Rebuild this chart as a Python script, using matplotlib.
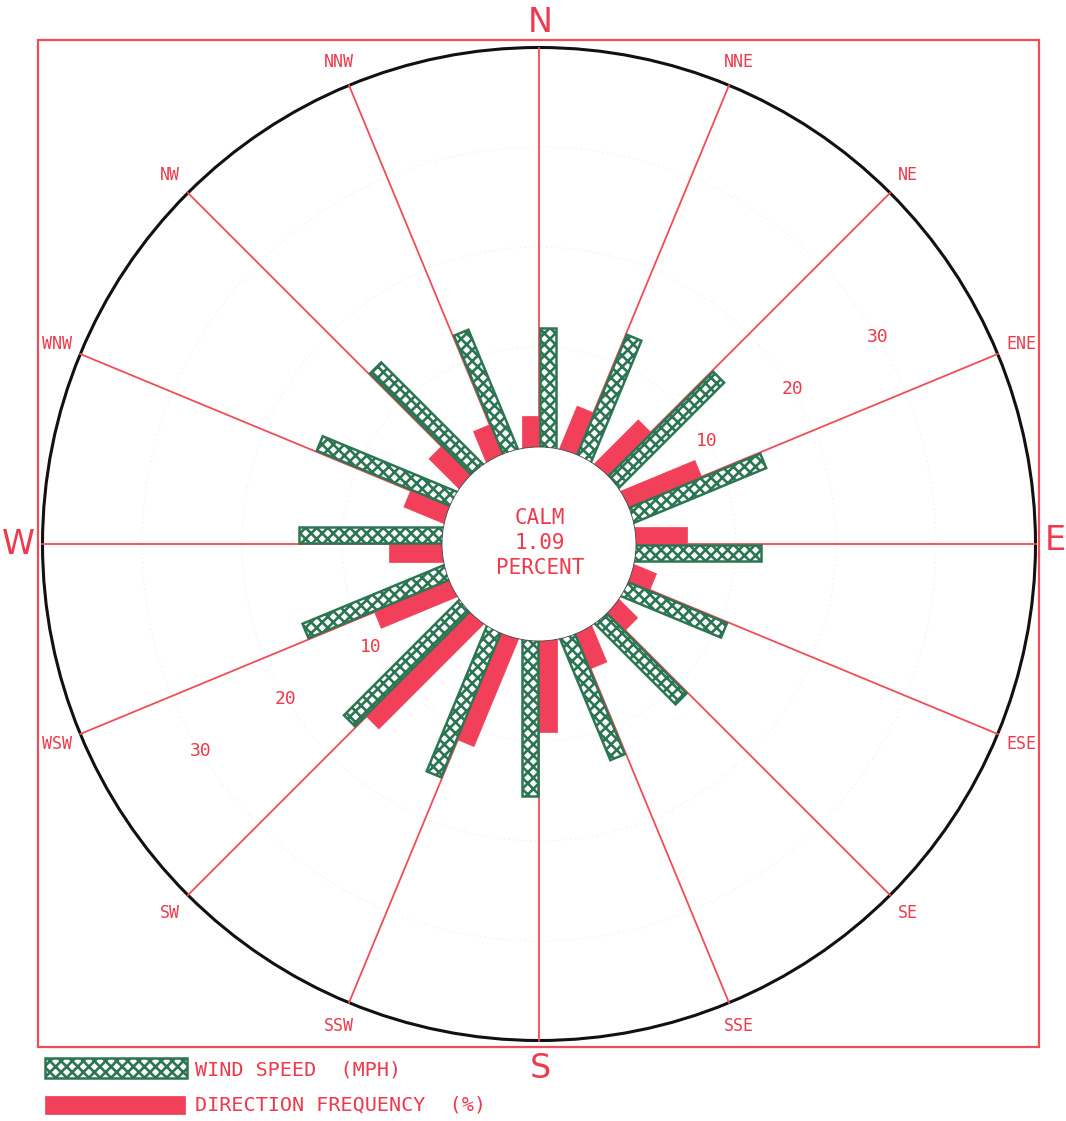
import numpy as np
import matplotlib
matplotlib.use("Agg")
import matplotlib.pyplot as plt
from matplotlib.patches import Polygon, Circle, Rectangle

# ---- data -------------------------------------------------------------
directions = ['N', 'NNE', 'NE', 'ENE', 'E', 'ESE', 'SE', 'SSE',
              'S', 'SSW', 'SW', 'WSW', 'W', 'WNW', 'NW', 'NNW']
wind_speed_mph = [11.9, 13.0, 14.8, 14.2, 12.5, 10.7, 11.3, 13.0,
                  15.5, 15.6, 16.2, 15.2, 14.3, 14.4, 14.3, 12.8]
direction_freq_pct = [3.1, 4.5, 6.1, 7.9, 5.1, 2.3, 2.5, 3.8,
                      9.1, 11.5, 14.7, 8.1, 5.3, 4.2, 4.1, 3.2]
calm_percent = 1.09
ring_values = [10, 20, 30]

# ---- styling ----------------------------------------------------------
RED = '#f23f5a'
LINE_RED = '#f24c58'
TEXT_RED = '#ee3a4c'
GREEN = '#2c7552'
MONO = 'DejaVu Sans Mono'
plt.rcParams['hatch.linewidth'] = 1.9

W_PX, H_PX = 1066, 1121
CX_PX, CY_PX = 539, 544          # rose centre in pixels
PX_PER_UNIT = 10.0
R_CALM = 9.7                      # radius of the calm circle (value units)
R_OUT = 49.65                     # outer compass circle

fig = plt.figure(figsize=(W_PX / 100, H_PX / 100), dpi=100)
ax = fig.add_axes([0, 0, 1, 1])
ax.set_xlim(-CX_PX / PX_PER_UNIT, (W_PX - CX_PX) / PX_PER_UNIT)
ax.set_ylim(-(H_PX - CY_PX) / PX_PER_UNIT, CY_PX / PX_PER_UNIT)
ax.axis('off')

bearings = np.arange(len(directions)) * 22.5


def unit(b):
    t = np.deg2rad(b)
    return np.array([np.sin(t), np.cos(t)]), np.array([np.cos(t), -np.sin(t)])


def bar(b, length, w0, w1):
    u, p = unit(b)
    r0, r1 = R_CALM - 1.0, R_CALM + length
    pts = [r0 * u + w0 * p, r1 * u + w0 * p, r1 * u + w1 * p, r0 * u + w1 * p]
    return np.array(pts)


# frame
ax.add_patch(Rectangle((-50.1, -50.3), 100.1, 100.7, fill=False,
                       edgecolor=LINE_RED, lw=1.6, zorder=1))

# outer circle
ax.add_patch(Circle((0, 0), R_OUT, fill=False, edgecolor='#111111', lw=2.2, zorder=2))

# faint dotted speed/frequency rings
for v in ring_values:
    ax.add_patch(Circle((0, 0), R_CALM + v, fill=False, edgecolor='#c4c8d6',
                        lw=0.8, ls=(0, (1, 3)), alpha=0.35, zorder=1))

# direction spokes
for b in bearings:
    u, _ = unit(b)
    ax.plot([R_CALM * u[0], R_OUT * u[0]], [R_CALM * u[1], R_OUT * u[1]],
            color=LINE_RED, lw=1.3, zorder=3)

# bars: frequency on the counter-clockwise side, speed on the clockwise side
for b, spd, frq in zip(bearings, wind_speed_mph, direction_freq_pct):
    ax.add_patch(Polygon(bar(b, frq, -1.75, 0.0), closed=True,
                         facecolor=RED, edgecolor=RED, lw=0.5, zorder=4))
    ax.add_patch(Polygon(bar(b, spd, 0.12, 1.68), closed=True,
                         facecolor='white', edgecolor=GREEN, hatch='xxx',
                         lw=1.8, zorder=4))

# calm circle
ax.add_patch(Circle((0, 0), R_CALM, facecolor='white', edgecolor='#444444',
                    lw=0.6, zorder=5))
for txt, y in zip(['CALM', f'{calm_percent:.2f}', 'PERCENT'], [2.6, 0.1, -2.4]):
    ax.text(0.1, y, txt, color=TEXT_RED, fontsize=15, family=MONO,
            ha='center', va='center', zorder=6)

# ring value labels
for v in ring_values:
    for b in (58.5, 238.5):
        u, _ = unit(b)
        r = R_CALM + v
        ax.text(r * u[0], r * u[1], str(v), color=TEXT_RED, fontsize=13,
                family=MONO, ha='center', va='center', zorder=6)

# direction labels
cardinal_pos = {'N': (0.1, 52.2), 'E': (51.6, 0.4), 'S': (0.1, -52.4), 'W': (-52.1, -0.1)}
for d, b in zip(directions, bearings):
    if d in cardinal_pos:
        x, y = cardinal_pos[d]
        ax.text(x, y, d, color=TEXT_RED, fontsize=24, ha='center', va='center',
                family='DejaVu Sans', zorder=6)
    else:
        u, _ = unit(b)
        ax.text(52.2 * u[0], 52.2 * u[1], d, color=TEXT_RED, fontsize=12,
                family=MONO, ha='center', va='center', zorder=6)

# legend
ax.add_patch(Rectangle((-49.4, -53.4), 14.2, 2.0, facecolor='white',
                       edgecolor=GREEN, hatch='xxx', lw=1.8, zorder=4))
ax.add_patch(Rectangle((-49.4, -57.0), 14.0, 1.8, facecolor=RED,
                       edgecolor=RED, lw=0.5, zorder=4))
ax.text(-34.4, -52.6, 'WIND SPEED  (MPH)', color=TEXT_RED, fontsize=14.5,
        family=MONO, ha='left', va='center')
ax.text(-34.4, -56.1, 'DIRECTION FREQUENCY  (%)', color=TEXT_RED, fontsize=14.5,
        family=MONO, ha='left', va='center')

fig.savefig('out.png', dpi=100, facecolor='white')
